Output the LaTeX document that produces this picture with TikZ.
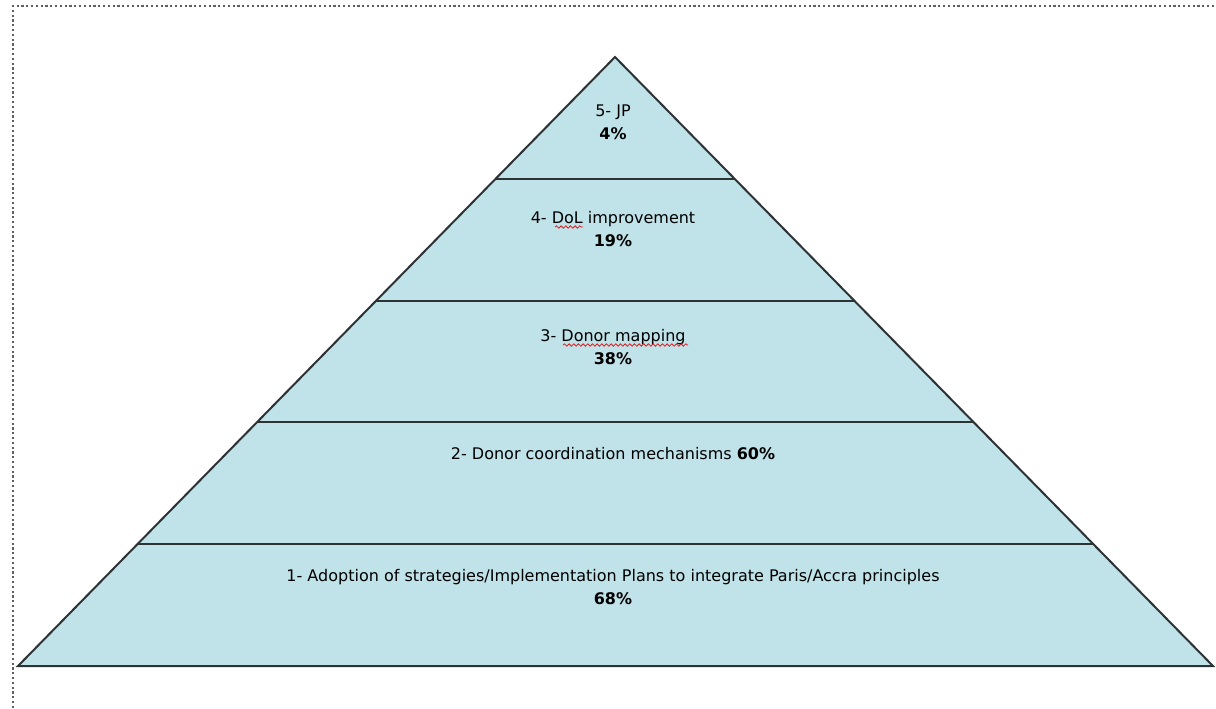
\documentclass[tikz,border=0pt]{standalone}
\usepackage{fontspec}
\setmainfont{DejaVu Sans}
\definecolor{layerblue}{RGB}{192, 227, 233}
\definecolor{edgegray}{RGB}{45, 50, 52}
\definecolor{framegray}{RGB}{95, 95, 95}
\definecolor{spellred}{RGB}{220, 30, 30}
\usetikzlibrary{calc, decorations.pathmorphing}

\tikzset{
  layerline/.style={draw=edgegray, line width=1.5pt},
  layertext/.style={font=\fontsize{12}{17}\selectfont, align=center, inner sep=1pt},
  spellmark/.style={spellred, line width=0.6pt, decorate, decoration={snake, amplitude=0.9pt, segment length=3.5pt}}
}

\begin{document}
\begin{tikzpicture}[x=0.75pt, y=-0.75pt]
  \useasboundingbox (0,0) rectangle (1216,708);

  % page frame
  \draw[framegray, dotted, line width=1.6pt] (13,708) -- (13,6) -- (1216,6);

  % pyramid
  \coordinate (apex) at (615,57);
  \coordinate (bl) at (18,666);
  \coordinate (br) at (1213,666);
  \fill[layerblue] (apex) -- (bl) -- (br) -- cycle;
  \foreach \t in {0.2, 0.4, 0.6, 0.8}
    \draw[layerline] ($(apex)!\t!(bl)$) -- ($(apex)!\t!(br)$);
  \draw[layerline, line join=miter] (apex) -- (bl) -- (br) -- cycle;

  % levels
  \node[layertext] (jp) at (613,122) {5- JP\\\textbf{4\%}};
  \node[layertext] (dol) at (613,229) {4- DoL improvement\\\textbf{19\%}};
  \node[layertext] (map) at (613,347) {3- Donor mapping\\\textbf{38\%}};
  \node[layertext] (coord) at (613,454) {2- Donor coordination mechanisms \textbf{60\%}};
  \node[layertext] (adopt) at (613,587) {1- Adoption of strategies/Implementation Plans to integrate Paris/Accra principles\\\textbf{68\%}};

  % spell-check marks
  \draw[spellmark] (555,227) -- (583,227);
  \draw[spellmark] (563,345) -- (688,345);
\end{tikzpicture}
\end{document}
